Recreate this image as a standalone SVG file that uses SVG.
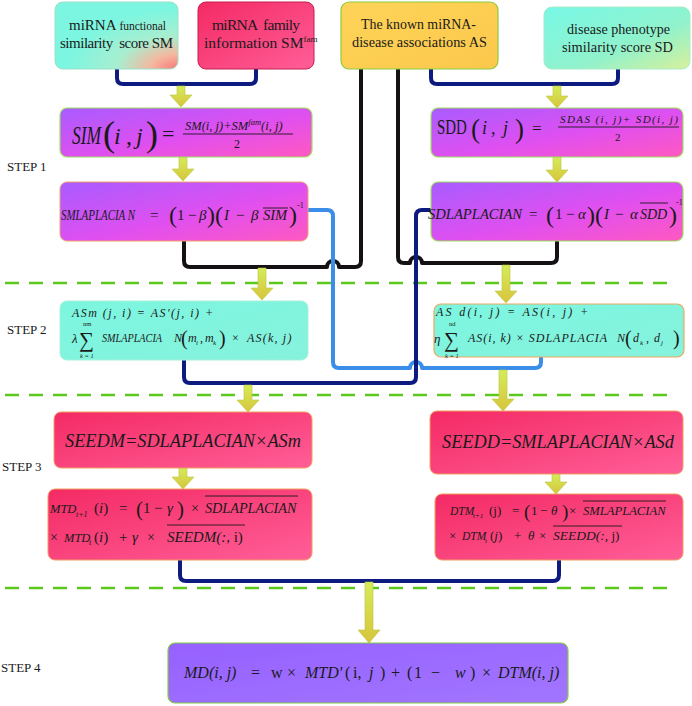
<svg xmlns="http://www.w3.org/2000/svg" width="692" height="706" viewBox="0 0 692 706">
<defs>
<style>
.t{font-family:"Liberation Serif","Times New Roman",serif;fill:#1a1a1a;white-space:pre}
.i{font-style:italic}
.u{font-style:normal}
.dash{stroke:#5cc81e;stroke-width:2.5;stroke-dasharray:14 10;fill:none}
.navy{stroke:#0d1a80;stroke-width:4;fill:none;stroke-linecap:round;stroke-linejoin:round}
.blk{stroke:#141014;stroke-width:4;fill:none;stroke-linecap:round;stroke-linejoin:round}
.lb{stroke:#3a8ee8;stroke-width:4;fill:none;stroke-linecap:round;stroke-linejoin:round}
.arr{fill:url(#ga);stroke:#b8c840;stroke-width:0.6}
.ov{stroke:#1a1a1a;stroke-width:0.9}
</style>
<linearGradient id="ga" x1="0" y1="0" x2="0" y2="1"><stop offset="0" stop-color="#d4ec58"/><stop offset="1" stop-color="#d8c43c"/></linearGradient>
<linearGradient id="gpur" x1="0" y1="0" x2="1" y2="1"><stop offset="0" stop-color="#a85cff"/><stop offset="0.55" stop-color="#e04ff0"/><stop offset="1" stop-color="#ff58c0"/></linearGradient>
<linearGradient id="gred" x1="0" y1="0" x2="1" y2="1"><stop offset="0" stop-color="#f42a64"/><stop offset="1" stop-color="#ff5e98"/></linearGradient>
<linearGradient id="gteal" x1="0" y1="0" x2="1" y2="1"><stop offset="0" stop-color="#7cf6e0"/><stop offset="1" stop-color="#86f2dc"/></linearGradient>
<linearGradient id="gteal4" x1="0" y1="0" x2="1" y2="1"><stop offset="0" stop-color="#78f8e6"/><stop offset="0.6" stop-color="#90f2cc"/><stop offset="1" stop-color="#d8f09c"/></linearGradient>
<radialGradient id="gteal1" cx="1" cy="1" r="0.9"><stop offset="0" stop-color="#f87878"/><stop offset="0.25" stop-color="#f4b8a0"/><stop offset="0.55" stop-color="#a8eed0"/><stop offset="1" stop-color="#7cf6e0"/></radialGradient>
<linearGradient id="gyel" x1="0" y1="0" x2="1" y2="1"><stop offset="0" stop-color="#fdd458"/><stop offset="1" stop-color="#fcc84c"/></linearGradient>
<linearGradient id="gvio" x1="0" y1="0" x2="1" y2="1"><stop offset="0" stop-color="#9660ff"/><stop offset="1" stop-color="#a276ff"/></linearGradient>
</defs>
<rect width="692" height="706" fill="#ffffff"/>

<g id="dashes">
<line class="dash" x1="5" y1="283" x2="668" y2="283"/>
<line class="dash" x1="5" y1="395" x2="668" y2="395"/>
<line class="dash" x1="5" y1="588" x2="668" y2="588"/>
</g>

<g id="steps">
<text class="t" x="7" y="171" font-size="13">STEP 1</text>
<text class="t" x="7" y="334" font-size="13">STEP 2</text>
<text class="t" x="2" y="471" font-size="13">STEP 3</text>
<text class="t" x="1" y="672" font-size="13">STEP 4</text>
</g>

<g id="connectors">
<path class="navy" d="M117 69 V78 Q117 84 123 84 H250 Q256 84 256 78 V69"/>
<path class="navy" d="M431 69 V78 Q431 84 437 84 H612 Q618 84 618 78 V69"/>
<path class="blk" d="M184 241 V261 Q184 267 190 267 H327 a6 6 0 0 1 12 0 H355 Q361 267 361 261 V69"/>
<path class="blk" d="M398 69 V257 Q398 263 404 263 H410 a6 6 0 0 1 12 0 H551 Q557 263 557 257 V241"/>
<path class="lb" d="M308 210 H327 Q333 210 333 216 V362 Q333 368 339 368 H410 a6 6 0 0 1 12 0 H535 Q541 368 541 362 V357"/>
<path class="navy" d="M430 210 H422 Q416 210 416 216 V377 Q416 383 410 383 H190 Q184 383 184 377 V360"/>
<path class="navy" d="M180 560 V575 Q180 581 186 581 H553 Q559 581 559 575 V560"/>
</g>

<g id="arrows">
<path class="arr" d="M177 86 H185 V95 H192 L181 107 L170 95 H177 Z"/>
<path class="arr" d="M179 157 H187 V169 H194 L183 181 L172 169 H179 Z"/>
<path class="arr" d="M553 86 H561 V96 H568 L557 108 L546 96 H553 Z"/>
<path class="arr" d="M553 157 H561 V170 H568 L557 182 L546 170 H553 Z"/>
<path class="arr" d="M258 268 H266 V288 H273 L262 300 L251 288 H258 Z"/>
<path class="arr" d="M502 265 H510 V291 H517 L506 303 L495 291 H502 Z"/>
<path class="arr" d="M244 385 H252 V400 H259 L248 412 L237 400 H244 Z"/>
<path class="arr" d="M499 370 H507 V399 H514 L503 411 L492 399 H499 Z"/>
<path class="arr" d="M179 468 H187 V477 H194 L183 489 L172 477 H179 Z"/>
<path class="arr" d="M552 474 H560 V482 H567 L556 494 L545 482 H552 Z"/>
<path class="arr" d="M365 582 H373 V630 H380 L369 643 L358 630 H365 Z"/>
</g>

<g id="n-sm">
<rect x="55" y="2" width="123" height="67" rx="8" fill="url(#gteal1)" stroke="#9ae0c8" stroke-width="1"/>
<text class="t" x="69" y="30" font-size="15">miRNA <tspan font-size="11.5">functional</tspan></text>
<text class="t" x="60" y="48" font-size="15" textLength="113" lengthAdjust="spacing">similarity  score SM</text>
</g>
<g id="n-smfam">
<rect x="198" y="2" width="116" height="67" rx="8" fill="url(#gred)" stroke="#c02050" stroke-width="1"/>
<text class="t" x="212" y="30" font-size="15.5" textLength="88" lengthAdjust="spacing">miRNA  family</text>
<text class="t" x="204" y="48" font-size="15.5">information SM<tspan font-size="9" dy="-6">fam</tspan></text>
</g>
<g id="n-as">
<rect x="341" y="2" width="157" height="67" rx="8" fill="url(#gyel)" stroke="#8ccc3c" stroke-width="1.2"/>
<text class="t" x="361" y="29" font-size="15" textLength="115" lengthAdjust="spacingAndGlyphs">The known miRNA-</text>
<text class="t" x="352" y="47" font-size="15" textLength="135" lengthAdjust="spacingAndGlyphs">disease associations AS</text>
</g>
<g id="n-sd">
<rect x="544" y="7" width="146" height="62" rx="8" fill="url(#gteal4)" stroke="#a8ecc8" stroke-width="1"/>
<text class="t" x="567" y="34" font-size="15" textLength="103" lengthAdjust="spacingAndGlyphs">disease phenotype</text>
<text class="t" x="562" y="52" font-size="15" textLength="111" lengthAdjust="spacingAndGlyphs">similarity score SD</text>
</g>

<g id="n-sim">
<rect x="60" y="108" width="252" height="49" rx="7" fill="url(#gpur)" stroke="#9ee060" stroke-width="1.2"/>
<text class="t i" transform="translate(72 144) scale(0.7 1)" font-size="25">SIM</text>
<text class="t" y="144" font-size="24"><tspan x="103" y="146" font-size="36">(</tspan><tspan class="i" x="114" y="144">i</tspan><tspan x="126">,</tspan><tspan class="i" x="136">j</tspan><tspan x="146" y="146" font-size="36">)</tspan><tspan x="162" y="141" font-size="22">=</tspan></text>
<text class="t i" x="185" y="130" font-size="12.5">SM(i, j)+SM<tspan font-size="8.5" dy="-5">fam</tspan><tspan dy="5">(i, j)</tspan></text>
<line class="ov" x1="183" y1="134" x2="293" y2="134"/>
<text class="t" x="234" y="148" font-size="12">2</text>
</g>

<g id="n-smlap">
<rect x="60" y="182" width="248" height="59" rx="7" fill="url(#gpur)" stroke="#f0a070" stroke-width="1"/>
<text class="t i" transform="translate(61 220) scale(0.78 1)" font-size="14">SMLAPLACIA N</text>
<text class="t" y="220" font-size="15"><tspan x="150">=</tspan><tspan x="169" y="223" font-size="24">(</tspan><tspan x="177" y="220">1</tspan><tspan x="188">−</tspan><tspan class="i" x="199">β</tspan><tspan x="207" y="223" font-size="24">)</tspan><tspan x="215" font-size="24">(</tspan><tspan class="i" x="224" y="220">I</tspan><tspan x="236">−</tspan><tspan class="i" x="251">β</tspan><tspan class="i" x="263" font-size="14.5">SIM</tspan><tspan x="289" y="223" font-size="24">)</tspan><tspan x="297" y="208" font-size="8">-1</tspan></text>
<line class="ov" x1="263" y1="208" x2="288" y2="208"/>
</g>

<g id="n-sdd">
<rect x="431" y="108" width="252" height="49" rx="7" fill="url(#gpur)" stroke="#9ee060" stroke-width="1.2"/>
<text class="t" transform="translate(437 134) scale(0.71 1)" font-size="21">SDD</text>
<text class="t" y="134" font-size="18"><tspan x="471" y="138" font-size="27">(</tspan><tspan class="i" x="482" y="134">i</tspan><tspan x="491">,</tspan><tspan class="i" x="503">j</tspan><tspan x="515" y="138" font-size="27">)</tspan><tspan x="532" y="134" font-size="17">=</tspan></text>
<text class="t i" x="560" y="123" font-size="11" textLength="118" lengthAdjust="spacing">SDAS (i, j)+ SD(i, j)</text>
<line class="ov" x1="558" y1="127" x2="679" y2="127"/>
<text class="t" x="615" y="141" font-size="11">2</text>
</g>

<g id="n-sdlap">
<rect x="431" y="182" width="252" height="59" rx="7" fill="url(#gpur)" stroke="#9ee060" stroke-width="1.2"/>
<text class="t" y="219" font-size="15"><tspan class="i" x="428" font-size="14.6">SDLAPLACIAN</tspan><tspan x="529">=</tspan><tspan x="546" y="223" font-size="24">(</tspan><tspan x="555" y="219">1</tspan><tspan x="566">−</tspan><tspan class="i" x="578">α</tspan><tspan x="587" y="223" font-size="24">)</tspan><tspan x="595" font-size="24">(</tspan><tspan class="i" x="604" y="219">I</tspan><tspan x="615">−</tspan><tspan class="i" x="630">α</tspan><tspan class="i" x="640" font-size="14">SDD</tspan><tspan x="669" y="223" font-size="24">)</tspan><tspan x="676" y="205" font-size="8">-1</tspan></text>
<line class="ov" x1="640" y1="203" x2="668" y2="203"/>
</g>

<g id="n-asm">
<rect x="60" y="301" width="248" height="59" rx="7" fill="url(#gteal)" stroke="#a8f0d8" stroke-width="1"/>
<text class="t i" x="72" y="317" font-size="12" textLength="141" lengthAdjust="spacing">ASm (j, i) = AS'(j, i) +</text>
<text class="t i" font-size="13"><tspan x="72" y="343">λ</tspan><tspan class="u" x="79" y="346.5" font-size="21">∑</tspan><tspan class="u" x="83" y="326" font-size="6.5">nm</tspan><tspan x="80" y="357.5" font-size="6.5">k = 1</tspan></text>
<text class="t i" transform="translate(102 342) scale(0.85 1)" font-size="12">SMLAPLACIA</text>
<text class="t i" y="342" font-size="12"><tspan x="174">N</tspan><tspan class="u" x="181" y="345" font-size="20">(</tspan><tspan x="188" y="342">m</tspan><tspan x="196" y="345" font-size="7">i</tspan><tspan class="u" x="200" y="342">,</tspan><tspan x="205">m</tspan><tspan x="213" y="345" font-size="7">k</tspan><tspan class="u" x="219" y="345" font-size="20">)</tspan><tspan class="u" x="232" y="342">×</tspan><tspan x="247" letter-spacing="1.2">AS(k, j)</tspan></text>
</g>

<g id="n-asd">
<rect x="434" y="304" width="250" height="53" rx="7" fill="url(#gteal)" stroke="#f0a860" stroke-width="1.2"/>
<text class="t i" x="436" y="316" font-size="12" textLength="152" lengthAdjust="spacing">AS d(i, j) = AS(i, j) +</text>
<text class="t i" font-size="13"><tspan x="434" y="343">η</tspan><tspan class="u" x="444" y="346.5" font-size="21">∑</tspan><tspan class="u" x="449" y="326" font-size="6.5">nd</tspan><tspan x="445" y="357.5" font-size="6.5">k = 1</tspan></text>
<text class="t i" x="468" y="342" font-size="12" textLength="139" lengthAdjust="spacing">AS(i, k) × SDLAPLACIA</text>
<text class="t i" y="342" font-size="12"><tspan x="617">N</tspan><tspan class="u" x="625" y="345" font-size="20">(</tspan><tspan x="633" y="342">d</tspan><tspan x="640" y="345" font-size="7">k</tspan><tspan class="u" x="646" y="342">,</tspan><tspan x="654">d</tspan><tspan x="661" y="345" font-size="7">j</tspan><tspan class="u" x="673" y="345" font-size="20">)</tspan></text>
</g>

<g id="n-seedm">
<rect x="54" y="412" width="258" height="56" rx="7" fill="url(#gred)" stroke="#f0a060" stroke-width="1"/>
<text class="t i" x="65" y="447" font-size="18.3">SEEDM=SDLAPLACIAN×ASm</text>
</g>
<g id="n-seedd">
<rect x="430" y="411" width="253" height="63" rx="7" fill="url(#gred)" stroke="#f0a060" stroke-width="1"/>
<text class="t i" x="442" y="448" font-size="18.3">SEEDD=SMLAPLACIAN×ASd</text>
</g>

<g id="n-mtd">
<rect x="48" y="489" width="264" height="71" rx="7" fill="url(#gred)" stroke="#f0a060" stroke-width="1"/>
<text class="t" y="513" font-size="15"><tspan class="i" x="50" font-size="12.5">MTD</tspan><tspan class="i" x="76" y="517" font-size="8">t+1</tspan><tspan x="94" y="513">(</tspan><tspan class="i">i</tspan><tspan>)</tspan><tspan x="119">=</tspan><tspan x="136" y="516" font-size="21">(</tspan><tspan x="143" y="513">1</tspan><tspan x="154">−</tspan><tspan class="i" x="167">γ</tspan><tspan x="177" y="516" font-size="21">)</tspan><tspan x="191" y="513" font-size="14">×</tspan><tspan class="i" x="205" font-size="14.2">SDLAPLACIAN</tspan></text>
<line class="ov" x1="205" y1="496" x2="298" y2="496"/>
<text class="t" y="542" font-size="15"><tspan x="50" font-size="14">×</tspan><tspan class="i" x="64" font-size="12.5">MTD</tspan><tspan class="i" x="89" y="545" font-size="8">t</tspan><tspan x="94" y="542">(</tspan><tspan class="i">i</tspan><tspan>)</tspan><tspan x="119">+</tspan><tspan class="i" x="132">γ</tspan><tspan x="147" font-size="14">×</tspan><tspan class="i" x="167">SEEDM(:, </tspan><tspan>i)</tspan></text>
<line class="ov" x1="167" y1="525" x2="245" y2="525"/>
</g>

<g id="n-dtm">
<rect x="435" y="494" width="248" height="66" rx="7" fill="url(#gred)" stroke="#f0a060" stroke-width="1"/>
<text class="t" y="515" font-size="13"><tspan class="i" x="450" font-size="11.5">DTM</tspan><tspan class="i" x="473" y="518" font-size="7">t+1</tspan><tspan x="489" y="515">(j)</tspan><tspan x="512">=</tspan><tspan x="524" y="518" font-size="19">(</tspan><tspan x="531" y="515">1</tspan><tspan x="540">−</tspan><tspan class="i" x="551">θ</tspan><tspan x="562" y="518" font-size="19">)</tspan><tspan x="569" y="515">×</tspan><tspan class="i" x="583" font-size="12.6">SMLAPLACIAN</tspan></text>
<line class="ov" x1="583" y1="501" x2="666" y2="501"/>
<text class="t" y="540" font-size="13"><tspan x="449">×</tspan><tspan class="i" x="462" font-size="11.5">DTM</tspan><tspan class="i" x="485" y="543" font-size="7">t</tspan><tspan x="490" y="540">(</tspan><tspan class="i">j</tspan><tspan>)</tspan><tspan x="514">+</tspan><tspan class="i" x="528">θ</tspan><tspan x="539">×</tspan><tspan class="i" x="553" font-size="13.5">SEEDD(:, </tspan><tspan>j)</tspan></text>
<line class="ov" x1="553" y1="526" x2="622" y2="526"/>
</g>

<g id="n-md">
<rect x="168" y="643" width="400" height="60" rx="7" fill="url(#gvio)" stroke="#80d040" stroke-width="1.2"/>
<text class="t" y="678" font-size="16"><tspan class="i" x="184">MD(i, j)</tspan><tspan x="251">=</tspan><tspan x="271">w</tspan><tspan x="287">×</tspan><tspan class="i" x="305">MTD'</tspan><tspan x="345">(</tspan><tspan x="353">i,</tspan><tspan class="i" x="369">j</tspan><tspan x="380">)</tspan><tspan x="391">+</tspan><tspan x="407">(</tspan><tspan x="414">1</tspan><tspan x="431">−</tspan><tspan class="i" x="455">w</tspan><tspan x="470">)</tspan><tspan x="482">×</tspan><tspan class="i" x="498">DTM(i, j)</tspan></text>
</g>
</svg>
